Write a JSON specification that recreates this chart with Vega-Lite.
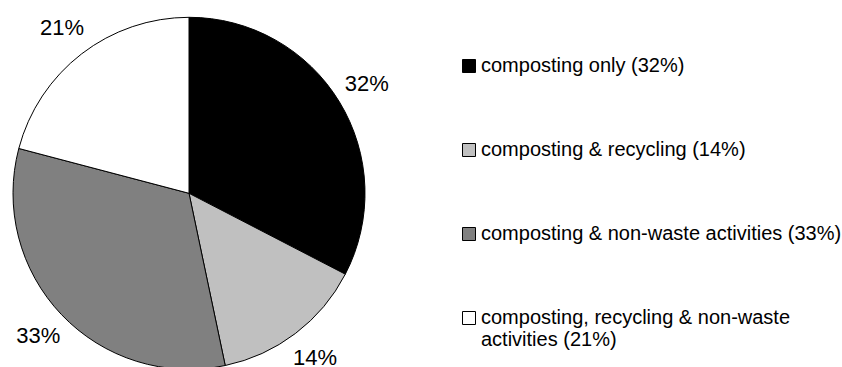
{
  "$schema": "https://vega.github.io/schema/vega-lite/v6.json",
  "width": 842,
  "height": 367,
  "autosize": {"type": "none"},
  "padding": 0,
  "background": "white",
  "config": {"view": {"stroke": null}, "font": "Liberation Sans"},
  "data": {
    "values": [
      {"idx": 1, "category": "composting only (32%)", "share": 32.6, "label": "32%"},
      {"idx": 2, "category": "composting & recycling (14%)", "share": 14.1, "label": "14%"},
      {"idx": 3, "category": "composting & non-waste activities (33%)", "share": 32.4, "label": "33%"},
      {"idx": 4, "category": "composting, recycling & non-waste activities (21%)", "share": 20.9, "label": "21%"}
    ]
  },
  "encoding": {
    "theta": {"field": "share", "type": "quantitative", "stack": true},
    "order": {"field": "idx", "type": "quantitative"},
    "x": {"value": 189},
    "y": {"value": 193.3}
  },
  "layer": [
    {
      "mark": {"type": "arc", "radius": 176, "stroke": "black", "strokeWidth": 1},
      "encoding": {
        "color": {
          "field": "category",
          "type": "nominal",
          "sort": null,
          "scale": {
            "domain": [
              "composting only (32%)",
              "composting & recycling (14%)",
              "composting & non-waste activities (33%)",
              "composting, recycling & non-waste activities (21%)"
            ],
            "range": ["#000000", "#c0c0c0", "#808080", "#ffffff"]
          },
          "legend": {
            "title": null,
            "orient": "none",
            "legendX": 459,
            "legendY": 56,
            "symbolType": "square",
            "symbolSize": 169,
            "symbolStrokeColor": "black",
            "symbolStrokeWidth": 1,
            "symbolOpacity": 1,
            "labelFont": "Liberation Sans",
            "labelFontSize": 20,
            "labelColor": "black",
            "labelOffset": 2,
            "labelLimit": 500,
            "rowPadding": 64,
            "labelExpr": "datum.label == 'composting, recycling & non-waste activities (21%)' ? ['composting, recycling & non-waste', 'activities (21%)'] : datum.label"
          }
        }
      }
    },
    {
      "mark": {"type": "text", "radius": 208, "font": "Liberation Sans", "fontSize": 22, "color": "black", "align": "center", "baseline": "middle", "dy": -1},
      "encoding": {"text": {"field": "label"}}
    }
  ]
}
